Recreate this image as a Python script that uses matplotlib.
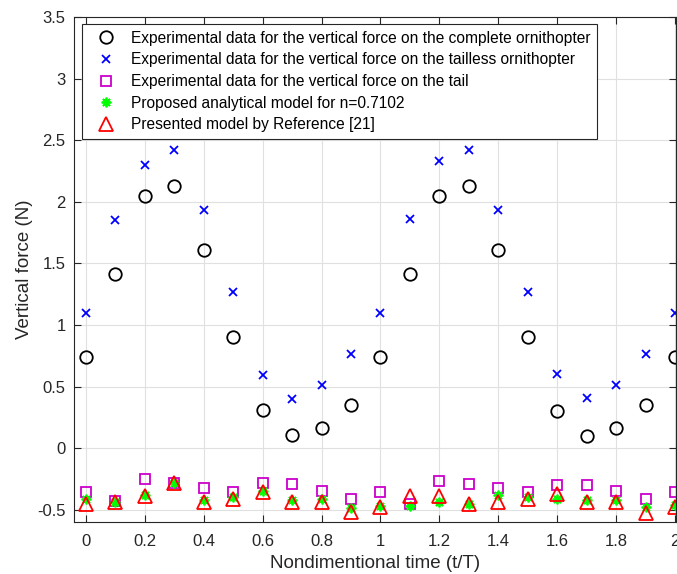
import matplotlib
matplotlib.use("Agg")
import matplotlib.pyplot as plt
import numpy as np

t = [0.0, 0.1, 0.2, 0.3, 0.4, 0.5, 0.6, 0.7, 0.8, 0.9, 1.0,
     1.1, 1.2, 1.3, 1.4, 1.5, 1.6, 1.7, 1.8, 1.9, 2.0]
complete = [0.74, 1.41, 2.05, 2.13, 1.61, 0.90, 0.31, 0.11, 0.16, 0.35, 0.74,
            1.41, 2.05, 2.13, 1.61, 0.90, 0.30, 0.10, 0.16, 0.35, 0.74]
tailless = [1.10, 1.85, 2.30, 2.42, 1.93, 1.27, 0.59, 0.40, 0.51, 0.76, 1.10,
            1.86, 2.33, 2.42, 1.93, 1.27, 0.60, 0.41, 0.51, 0.76, 1.10]
tail = [-0.36, -0.43, -0.25, -0.28, -0.32, -0.36, -0.28, -0.29, -0.35, -0.41, -0.36,
        -0.45, -0.27, -0.29, -0.32, -0.36, -0.30, -0.30, -0.35, -0.41, -0.36]
proposed = [-0.41, -0.44, -0.38, -0.28, -0.42, -0.40, -0.35, -0.42, -0.41, -0.49, -0.47,
            -0.47, -0.44, -0.45, -0.38, -0.40, -0.41, -0.42, -0.42, -0.48, -0.46]
reference = [-0.45, -0.44, -0.39, -0.28, -0.44, -0.41, -0.36, -0.44, -0.44, -0.52, -0.48,
             -0.39, -0.39, -0.45, -0.44, -0.41, -0.37, -0.44, -0.44, -0.53, -0.48]

labels = ["Experimental data for the vertical force on the complete ornithopter",
          "Experimental data for the vertical force on the tailless ornithopter",
          "Experimental data for the vertical force on the tail",
          "Proposed analytical model for n=0.7102",
          "Presented model by Reference [21]"]

plt.rcParams['font.family'] = ['Liberation Sans', 'DejaVu Sans']

fig = plt.figure(figsize=(6.77, 5.74), dpi=100)
ax = fig.add_axes([74/677, 1-522/574, (676-74)/677, (522-17)/574])

ax.plot(t, complete, linestyle='none', marker='o', mfc='none', mec='black', mew=1.3, ms=9, label=labels[0])
ax.plot(t, tailless, linestyle='none', marker='x', color='#0000ff', mew=1.3, ms=6, label=labels[1])
ax.plot(t, tail, linestyle='none', marker='s', mfc='none', mec='#cc00cc', mew=1.3, ms=7, label=labels[2])
ax.plot(t, proposed, linestyle='none', marker=(8, 2, 0), color='#00ff00', mec='#00ff00', mew=1.3, ms=7, label=labels[3])
ax.plot(t, reference, linestyle='none', marker='^', mfc='none', mec='#ff0000', mew=1.3, ms=10, label=labels[4])

ax.set_xlim(-0.04, 2.003)
ax.set_ylim(-0.6, 3.5)
ax.set_xticks(np.arange(0, 2.01, 0.2))
ax.set_xticklabels(['0', '0.2', '0.4', '0.6', '0.8', '1', '1.2', '1.4', '1.6', '1.8', '2'])
ax.set_yticks(np.arange(-0.5, 3.51, 0.5))
ax.set_yticklabels(['-0.5', '0', '0.5', '1', '1.5', '2', '2.5', '3', '3.5'])
ax.grid(True, color='#e0e0e0', linewidth=0.8)
ax.set_axisbelow(True)
ax.tick_params(direction='in', top=True, right=True, labelsize=12, colors='#262626', length=5)
ax.tick_params(axis='x', pad=9)
ax.tick_params(axis='y', pad=6)
for s in ax.spines.values():
    s.set_color('#262626')
    s.set_linewidth(0.8)
ax.set_xlabel('Nondimentional time (t/T)', fontsize=13.5, color='#262626', labelpad=4)
ax.set_ylabel('Vertical force (N)', fontsize=13.5, color='#262626', labelpad=3)

leg = ax.legend(loc='upper left', bbox_to_anchor=(0.013, 0.986), borderaxespad=0,
                fontsize=11.2, frameon=True,
                fancybox=False, edgecolor='#262626', framealpha=1, handletextpad=0.45,
                borderpad=0.42, labelspacing=0.43, handlelength=2.3)
leg.get_frame().set_linewidth(0.8)

fig.savefig('out.png', dpi=100)
